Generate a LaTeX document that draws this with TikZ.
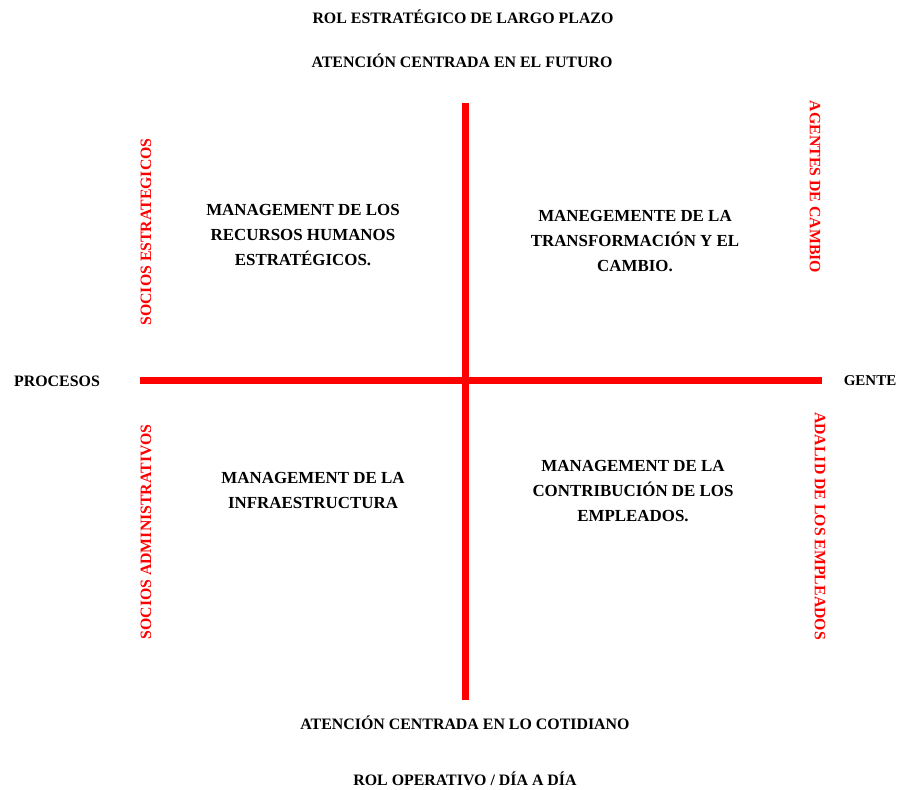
\documentclass[tikz,border=0pt]{standalone}
\usepackage{fontspec}
\setmainfont{Liberation Serif}
\usetikzlibrary{positioning}
\definecolor{figRojo}{RGB}{255,0,0}
\tikzset{
  eje/.style={line width=7pt, draw=figRojo},
  rotulo/.style={font=\bfseries\fontsize{15.9}{18}\selectfont, inner sep=1pt},
  cuadrante/.style={font=\bfseries\fontsize{16.9}{25}\selectfont, align=center, inner sep=1pt},
  lateral/.style={font=\bfseries\fontsize{15.8}{18}\selectfont, text=figRojo, inner sep=1pt}
}
\begin{document}
\begin{tikzpicture}[x=1pt, y=-1pt]
  \useasboundingbox[fill=white] (0,0) rectangle (900,790);

  \coordinate (arriba) at (465,103);
  \coordinate (abajo) at (465,700);
  \coordinate (izq) at (140,380);
  \coordinate (der) at (822,380);

  \draw[eje] (arriba) -- (abajo);
  \draw[eje] (izq) -- (der);

  \node[rotulo] (largo) at (463,17) {ROL ESTRATÉGICO DE LARGO PLAZO};
  \node[rotulo] (futuro) at (462,61) {ATENCIÓN CENTRADA EN EL FUTURO};
  \node[rotulo] (cotidiano) at (465,723) {ATENCIÓN CENTRADA EN LO COTIDIANO};
  \node[rotulo] (operativo) at (465,779) {ROL OPERATIVO / DÍA A DÍA};
  \node[rotulo] (procesos) at (57,381) {PROCESOS};
  \node[rotulo, font=\bfseries\fontsize{15}{18}\selectfont] (gente) at (870,381) {GENTE};

  \node[lateral, rotate=90] (socEst) at (146,232) {SOCIOS ESTRATEGICOS};
  \node[lateral, rotate=90] (socAdm) at (146,532) {SOCIOS ADMINISTRATIVOS};
  \node[lateral, rotate=-90] (agentes) at (815,187) {AGENTES DE CAMBIO};
  \node[lateral, rotate=-90] (adalid) at (820,526) {ADALID DE LOS EMPLEADOS};

  \node[cuadrante] (rrhh) at (303,235) {MANAGEMENT DE LOS\\RECURSOS HUMANOS\\ESTRATÉGICOS.};
  \node[cuadrante] (cambio) at (635,241) {MANEGEMENTE DE LA\\TRANSFORMACIÓN Y EL\\CAMBIO.};
  \node[cuadrante] (infra) at (313,490) {MANAGEMENT DE LA\\INFRAESTRUCTURA};
  \node[cuadrante] (contrib) at (633,491) {MANAGEMENT DE LA\\CONTRIBUCIÓN DE LOS\\EMPLEADOS.};
\end{tikzpicture}
\end{document}
